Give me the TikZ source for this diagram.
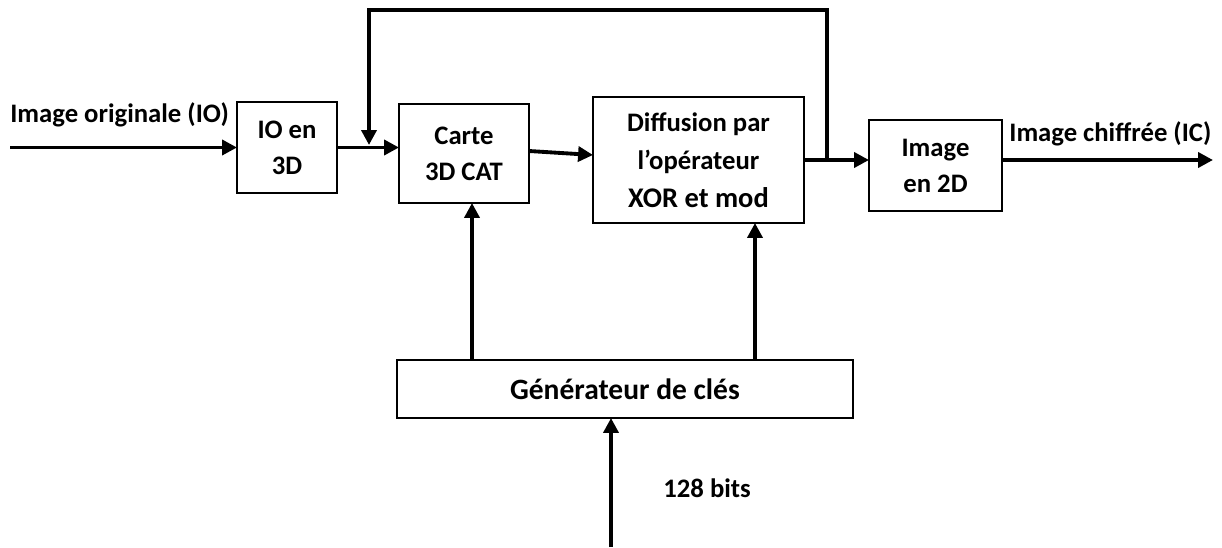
\documentclass[tikz,border=0pt]{standalone}
\usepackage{fontspec}
\setmainfont{Carlito}
\usetikzlibrary{arrows.meta}

\begin{document}
\begin{tikzpicture}[x=0.02cm,y=-0.02cm,
    boite/.style={draw,line width=1.1pt,inner sep=0pt,outer sep=0pt,align=center,
        font=\fontsize{15.2}{20.5}\selectfont\bfseries},
    texte/.style={inner sep=0pt,font=\fontsize{15.2}{20.5}\selectfont\bfseries},
    fleche/.style={line width=2.2pt,-{Triangle[length=8.5pt,width=8.5pt]}}]
    \useasboundingbox (0,0) rectangle (1222,547);

    % les blocs
    \node[boite,minimum width=2cm,minimum height=1.82cm] (io) at (287,147.5) {IO en\\3D};
    \node[boite,minimum width=2.6cm,minimum height=1.98cm] (carte) at (464,153.5) {Carte\\3D CAT};
    \node[boite,minimum width=4.22cm,minimum height=2.52cm,font=\fontsize{15.2}{21.5}\selectfont\bfseries]
        (diff) at (698.5,160) {Diffusion par\\l'opérateur\\{\fontsize{16.2}{21.5}\selectfont XOR et mod}};
    \node[boite,minimum width=2.66cm,minimum height=1.82cm] (img2d) at (935.5,165.5) {Image\\en 2D};
    \node[boite,minimum width=9.12cm,minimum height=1.16cm,font=\fontsize{16.8}{20}\selectfont\bfseries]
        (gen) at (625,389) {Générateur de clés};

    % textes libres
    \node[texte,anchor=base west] (entreeTxt) at (10,123) {Image originale (IO)};
    \node[texte,anchor=base west] (sortieTxt) at (1009,142) {Image chiffrée (IC)};
    \node[texte,anchor=base west] (bits) at (663,497) {128 bits};

    \coordinate (entree) at (10,147.5);
    \coordinate (sortie) at (1213,160);
    \coordinate (jonc) at (827,160);
    \coordinate (haut) at (369,10);
    \coordinate (retour) at (369,145);
    \coordinate (cle) at (611,547);

    % liaisons
    \draw[fleche] (entree) -- (io.west);
    \draw[fleche] (io.east) -- (io.east -| carte.west);
    \draw[fleche] ([yshift=0.05cm]carte.east) -- ([yshift=0.1cm]diff.west);
    \draw[fleche] (diff.east) -- (diff.east -| img2d.west);
    \draw[fleche] (diff.east -| img2d.east) -- (sortie);
    % boucle de retour
    \draw[fleche] (jonc) |- (haut) -- (retour);
    % cles
    \draw[fleche] ([xshift=0.16cm]carte.south |- gen.north) -- ([xshift=0.16cm]carte.south);
    \draw[fleche] ([xshift=1.13cm]diff.south |- gen.north) -- ([xshift=1.13cm]diff.south);
    \draw[fleche] (cle) -- (cle |- gen.south);
\end{tikzpicture}
\end{document}
